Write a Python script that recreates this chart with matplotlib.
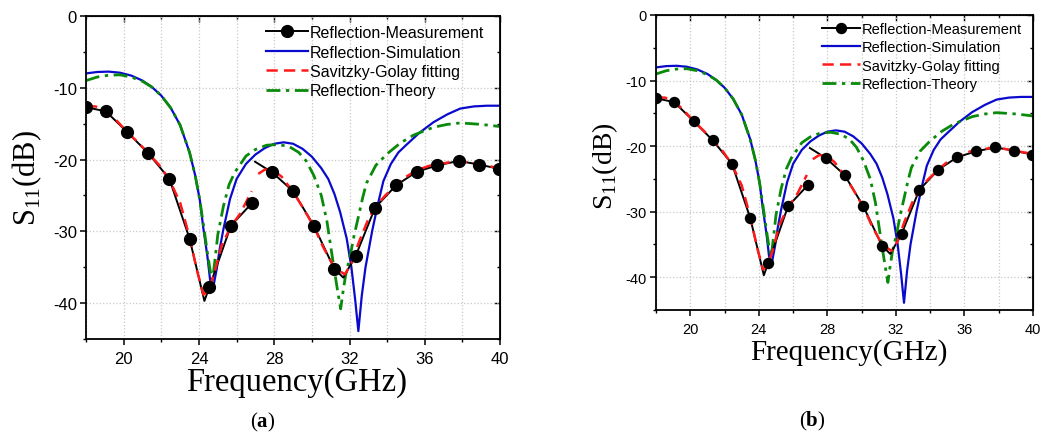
import numpy as np
import matplotlib
matplotlib.use("Agg")
import matplotlib.pyplot as plt
from matplotlib.lines import Line2D
from matplotlib.ticker import MultipleLocator

nan = np.nan

# measured S11, NaN marks the break in the trace near 27 GHz
meas_freq = [18.0, 19.06, 20.2, 21.3, 22.43, 23.5, 24.29, 24.55, 25.7, 26.84, nan,
             26.98, 27.9, 29.0, 30.1, 31.19, 31.67, 32.33, 33.36, 34.47, 35.57,
             36.67, 37.8, 38.9, 39.95]
meas_s11 = [-12.7, -13.3, -16.2, -19.1, -22.7, -31.0, -39.7, -37.8, -29.2, -26.0, nan,
            -20.3, -21.8, -24.4, -29.2, -35.2, -36.45, -33.4, -26.7, -23.6, -21.7,
            -20.8, -20.2, -20.7, -21.3]
# samples that carry a marker
meas_marks = [0, 1, 2, 3, 4, 5, 7, 8, 9, 12, 13, 14, 15, 17, 18, 19, 20, 21, 22, 23, 24]

sim_freq = [18.0, 18.6, 19.2, 19.8, 20.4, 21.0, 21.5, 22.0, 22.5, 23.0, 23.5, 23.8,
            24.05, 24.23, 24.45, 24.59, 24.73, 24.94, 25.1, 25.3, 25.65, 26.0, 26.5,
            27.0, 27.5, 28.0, 28.5, 29.0, 29.5, 30.0, 30.5, 30.87, 31.2, 31.5, 31.85,
            32.1, 32.3, 32.47, 32.65, 32.85, 33.2, 33.5, 33.8, 34.2, 34.6, 35.0, 35.7,
            36.46, 37.2, 37.88, 38.6, 39.3, 40.0]
sim_s11 = [-8.0, -7.8, -7.75, -7.9, -8.3, -9.0, -9.9, -11.1, -12.8, -15.2, -19.0, -22.2,
           -25.7, -29.5, -33.5, -36.7, -38.2, -35.3, -32.5, -29.7, -25.5, -22.7, -20.6,
           -19.3, -18.4, -17.8, -17.6, -17.8, -18.5, -19.6, -21.2, -22.7, -24.8, -27.3, -31.0,
           -35.0, -39.5, -43.9, -39.0, -35.0, -30.0, -26.3, -23.0, -20.6, -19.0, -18.0, -16.3,
           -14.8, -13.7, -12.9, -12.6, -12.5, -12.5]

theory_freq = [18.0, 18.6, 19.2, 19.8, 20.4, 21.0, 21.5, 22.0, 22.5, 23.0, 23.5, 23.8,
               24.05, 24.25, 24.45, 24.6, 24.72, 24.85, 25.0, 25.3, 25.6, 25.9, 26.5,
               27.0, 27.6, 28.2, 28.8, 29.3, 29.7, 30.1, 30.5, 30.8, 31.14, 31.35, 31.53,
               31.65, 31.8, 32.03, 32.25, 32.47, 32.7, 32.9, 33.4, 34.0, 34.7, 35.4,
               36.46, 37.2, 37.88, 39.0, 40.0]
theory_s11 = [-9.0, -8.5, -8.25, -8.2, -8.5, -9.1, -9.9, -11.1, -12.8, -15.2, -19.0, -22.2,
              -25.7, -29.3, -33.0, -35.5, -36.8, -34.0, -30.5, -26.5, -23.5, -21.8, -19.5,
              -18.6, -18.0, -17.9, -18.2, -19.0, -20.2, -22.2, -25.0, -28.6, -34.5, -38.0, -40.8,
              -38.5, -36.0, -33.5, -30.5, -28.0, -25.3, -23.3, -20.8, -19.2, -17.7, -16.6,
              -15.5, -15.1, -14.9, -15.1, -15.4]

# Savitzky-Golay smoothed measurement, same break near 27 GHz
sg_freq = [18.0, 18.5, 19.0, 19.6, 20.2, 20.8, 21.3, 21.9, 22.43, 23.0, 23.5, 23.9,
           24.24, 24.5, 24.8, 25.2, 25.7, 26.2, 26.8, nan,
           27.15, 27.5, 27.9, 28.4, 29.0, 29.5, 30.1, 30.6, 31.19, 31.75, 32.1, 32.5,
           33.0, 33.4, 33.9, 34.47, 35.0, 35.57, 36.2, 36.8, 37.5, 38.1, 38.9, 40.0]
sg_s11 = [-12.6, -12.6, -13.0, -14.5, -16.2, -17.7, -19.1, -20.8, -22.8, -26.0, -30.8, -35.5,
          -38.8, -38.3, -36.0, -32.0, -29.3, -27.5, -24.4, nan,
          -22.0, -21.4, -21.4, -22.4, -24.5, -26.6, -29.3, -32.2, -35.0, -36.0, -34.5, -31.5,
          -28.3, -26.5, -25.0, -23.6, -22.4, -21.5, -20.9, -20.6, -20.3, -20.3, -20.7, -21.2]

labels = ["Reflection-Measurement", "Reflection-Simulation",
          "Savitzky-Golay fitting", "Reflection-Theory"]

plt.rcParams["axes.unicode_minus"] = False
plt.rcParams["mathtext.fontset"] = "custom"
plt.rcParams["mathtext.rm"] = "Liberation Serif"
plt.rcParams["mathtext.bf"] = "Liberation Serif:bold"

SANS = "Liberation Sans"
SERIF = "Liberation Serif"
BLUE = "#0a0acc"
GREEN = "#0a8a0a"
RED = "#ff1a1a"


def draw_panel(ax, tick_fs, leg_fs, ms, leg_xy):
    ax.plot(sim_freq, sim_s11, color=BLUE, lw=1.6, zorder=2)
    ax.plot(theory_freq, theory_s11, color=GREEN, lw=2.0,
            dashes=(5, 2, 1.2, 2), zorder=2.5)
    ax.plot(meas_freq, meas_s11, color="black", lw=1.4, zorder=3)
    ax.plot(sg_freq, sg_s11, color=RED, lw=1.8, dashes=(4.5, 2.5), zorder=4)
    ax.plot(meas_freq, meas_s11, ls="none", marker="o", ms=ms, color="black",
            markevery=meas_marks, zorder=5)

    ax.set_xlim(18, 40)
    ax.set_ylim(-45, 0)
    ax.xaxis.set_major_locator(MultipleLocator(4))
    ax.xaxis.set_minor_locator(MultipleLocator(2))
    ax.yaxis.set_major_locator(MultipleLocator(10))
    ax.yaxis.set_minor_locator(MultipleLocator(5))
    ax.grid(True, which="both", axis="x", color="#c8c8c8", ls=":", lw=0.9)
    ax.grid(True, which="major", axis="y", color="#c8c8c8", ls=":", lw=0.9)
    ax.set_axisbelow(True)
    ax.tick_params(which="major", direction="out", length=4.5, width=1.1,
                   labelsize=tick_fs, pad=2)
    ax.tick_params(axis="x", which="major", pad=4)
    ax.tick_params(which="minor", direction="out", length=2.5, width=1.0)
    for lab in ax.get_xticklabels() + ax.get_yticklabels():
        lab.set_fontfamily(SANS)
    for sp in ax.spines.values():
        sp.set_linewidth(1.3)

    # inward ticks on the top and right edges
    top = ax.secondary_xaxis("top")
    top.xaxis.set_major_locator(MultipleLocator(4))
    top.xaxis.set_minor_locator(MultipleLocator(2))
    top.tick_params(which="both", direction="in", labeltop=False, width=1.0)
    top.tick_params(which="major", length=4)
    top.tick_params(which="minor", length=2.5)
    right = ax.secondary_yaxis("right")
    right.yaxis.set_major_locator(MultipleLocator(10))
    right.yaxis.set_minor_locator(MultipleLocator(5))
    right.tick_params(which="both", direction="in", labelright=False, width=1.0)
    right.tick_params(which="major", length=4)
    right.tick_params(which="minor", length=2.5)

    handles = [
        Line2D([], [], color="black", lw=1.4, marker="o", ms=ms),
        Line2D([], [], color=BLUE, lw=1.6),
        Line2D([], [], color=RED, lw=1.8, dashes=(4.5, 2.5)),
        Line2D([], [], color=GREEN, lw=2.0, dashes=(5, 2, 1.2, 2)),
    ]
    leg = ax.legend(handles, labels, loc="upper left", bbox_to_anchor=leg_xy,
                    frameon=False, prop={"family": SANS, "size": leg_fs},
                    handlelength=2.6, handletextpad=0.15, labelspacing=0.28,
                    borderpad=0, borderaxespad=0, numpoints=1)
    leg.set_zorder(6)


fig = plt.figure(figsize=(10.44, 4.39), dpi=100)
ax_a = fig.add_axes([0.0824, 0.2255, 0.3966, 0.7358])
ax_b = fig.add_axes([0.6284, 0.2916, 0.3611, 0.672])

draw_panel(ax_a, 12, 11.5, 8.5, (0.435, 0.972))
draw_panel(ax_b, 10.5, 10.5, 7.2, (0.44, 0.975))

ylab = r"$\mathrm{S}_{11}$(dB)"
fig.text(0.0259, 0.5945, ylab, rotation=90, ha="center", va="center",
         family=SERIF, fontsize=22)
fig.text(0.5795, 0.622, ylab, rotation=90, ha="center", va="center",
         family=SERIF, fontsize=20)
fig.text(0.2845, 0.128, "Frequency(GHz)", ha="center", va="center",
         family=SERIF, fontsize=23.5)
fig.text(0.8132, 0.196, "Frequency(GHz)", ha="center", va="center",
         family=SERIF, fontsize=21)
fig.text(0.252, 0.037, r"($\mathbf{a}$)", ha="center", va="center",
         family=SERIF, fontsize=15)
fig.text(0.778, 0.041, r"($\mathbf{b}$)", ha="center", va="center",
         family=SERIF, fontsize=15)

fig.savefig("out.png", dpi=100)
